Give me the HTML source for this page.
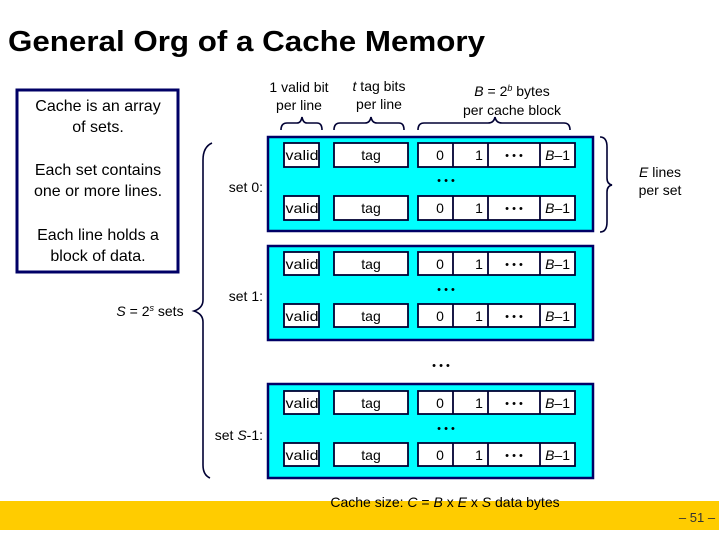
<!DOCTYPE html>
<html><head><meta charset="utf-8"><style>
html,body{margin:0;padding:0;background:#fff;}
svg{display:block;font-family:"Liberation Sans",Arial,sans-serif;}
</style></head><body>
<svg width="719" height="539" viewBox="0 0 719 539" xmlns="http://www.w3.org/2000/svg">
<rect x="0" y="501" width="719" height="29" fill="#FFCC00"/>
<text x="8" y="51" font-size="29" font-weight="bold" fill="#000" textLength="477" lengthAdjust="spacingAndGlyphs">General Org of a Cache Memory</text>

<rect x="17" y="90" width="161" height="182" fill="#fff" stroke="#000066" stroke-width="3"/>
<g font-size="16" text-anchor="middle" fill="#000">
<text x="98" y="111">Cache is an array</text>
<text x="98" y="132">of sets.</text>
<text x="98" y="175">Each set contains</text>
<text x="98" y="196">one or more lines.</text>
<text x="98" y="240">Each line holds a</text>
<text x="98" y="261">block of data.</text>
</g>

<g font-size="14" fill="#000" text-anchor="middle">
<text x="299" y="92">1 valid bit</text>
<text x="299" y="110">per line</text>
<text x="379" y="91"><tspan font-style="italic">t</tspan> tag bits</text>
<text x="379" y="109">per line</text>
<text x="512" y="96"><tspan font-style="italic">B</tspan> = 2<tspan font-size="9" dy="-5" font-style="italic">b</tspan><tspan dy="5"> bytes</tspan></text>
<text x="512" y="115">per cache block</text>
<text x="660" y="177"><tspan font-style="italic">E</tspan> lines</text>
<text x="660" y="195">per set</text>
<text x="150" y="316"><tspan font-style="italic">S</tspan> = 2<tspan font-size="9" dy="-5" font-style="italic">s</tspan><tspan dy="5"> sets</tspan></text>
</g>
<g font-size="14" fill="#000" text-anchor="end">
<text x="263" y="192">set 0:</text>
<text x="263" y="301">set 1:</text>
<text x="263" y="440">set <tspan font-style="italic">S</tspan>-1:</text>
</g>

<g fill="none" stroke="#000033" stroke-width="1.6">
<path d="M281,130 Q281,123 287,123 L297,123 Q301,123 302,117 Q303,123 307,123 L317,123 Q322,123 322,130"/>
<path d="M334,130 Q334,123 340,123 L365,123 Q370,123 371,117 Q372,123 377,123 L399,123 Q404,123 404,130"/>
<path d="M418,130 Q418,123 424,123 L488,123 Q494,123 495,117 Q496,123 502,123 L564,123 Q570,123 570,130"/>
<path d="M600,137 Q607,137 607,147 L607,178 Q607,184 612,185 Q607,186 607,192 L607,222 Q607,232 600,232"/>
<path d="M212,143 Q203,147 203,160 L203,300 Q203,308 194,311 Q203,314 203,322 L203,465 Q203,475 210,478"/>
</g>

<rect x="268" y="137" width="325" height="94" fill="#00FFFF" stroke="#000066" stroke-width="2.5"/>
<rect x="268" y="246" width="325" height="94" fill="#00FFFF" stroke="#000066" stroke-width="2.5"/>
<rect x="268" y="384" width="325" height="94" fill="#00FFFF" stroke="#000066" stroke-width="2.5"/>

<g font-size="14" fill="#000" text-anchor="middle">
<g stroke="#000033" stroke-width="1.8" fill="#fff">
<rect x="284" y="143" width="35" height="24"/><rect x="334" y="143" width="74" height="24"/><rect x="418" y="143" width="157" height="24"/>
<rect x="284" y="196" width="35" height="24"/><rect x="334" y="196" width="74" height="24"/><rect x="418" y="196" width="157" height="24"/>
<rect x="284" y="252" width="35" height="23"/><rect x="334" y="252" width="74" height="23"/><rect x="418" y="252" width="157" height="23"/>
<rect x="284" y="304" width="35" height="23"/><rect x="334" y="304" width="74" height="23"/><rect x="418" y="304" width="157" height="23"/>
<rect x="284" y="391" width="35" height="23"/><rect x="334" y="391" width="74" height="23"/><rect x="418" y="391" width="157" height="23"/>
<rect x="284" y="443" width="35" height="23"/><rect x="334" y="443" width="74" height="23"/><rect x="418" y="443" width="157" height="23"/>
<path d="M453,143v24M488,143v24M540,143v24 M453,196v24M488,196v24M540,196v24 M453,252v23M488,252v23M540,252v23 M453,304v23M488,304v23M540,304v23 M453,391v23M488,391v23M540,391v23 M453,443v23M488,443v23M540,443v23" fill="none"/>
</g>
<g>
<text x="302" y="160" textLength="33" lengthAdjust="spacingAndGlyphs">valid</text><text x="371" y="160">tag</text><text x="440" y="160">0</text><text x="479" y="160">1</text><text x="514" y="159" font-size="11">• • •</text><text x="570" y="160" text-anchor="end"><tspan font-style="italic">B</tspan>–1</text>
<text x="302" y="213" textLength="33" lengthAdjust="spacingAndGlyphs">valid</text><text x="371" y="213">tag</text><text x="440" y="213">0</text><text x="479" y="213">1</text><text x="514" y="212" font-size="11">• • •</text><text x="570" y="213" text-anchor="end"><tspan font-style="italic">B</tspan>–1</text>
<text x="302" y="269" textLength="33" lengthAdjust="spacingAndGlyphs">valid</text><text x="371" y="269">tag</text><text x="440" y="269">0</text><text x="479" y="269">1</text><text x="514" y="268" font-size="11">• • •</text><text x="570" y="269" text-anchor="end"><tspan font-style="italic">B</tspan>–1</text>
<text x="302" y="321" textLength="33" lengthAdjust="spacingAndGlyphs">valid</text><text x="371" y="321">tag</text><text x="440" y="321">0</text><text x="479" y="321">1</text><text x="514" y="320" font-size="11">• • •</text><text x="570" y="321" text-anchor="end"><tspan font-style="italic">B</tspan>–1</text>
<text x="302" y="408" textLength="33" lengthAdjust="spacingAndGlyphs">valid</text><text x="371" y="408">tag</text><text x="440" y="408">0</text><text x="479" y="408">1</text><text x="514" y="407" font-size="11">• • •</text><text x="570" y="408" text-anchor="end"><tspan font-style="italic">B</tspan>–1</text>
<text x="302" y="460" textLength="33" lengthAdjust="spacingAndGlyphs">valid</text><text x="371" y="460">tag</text><text x="440" y="460">0</text><text x="479" y="460">1</text><text x="514" y="459" font-size="11">• • •</text><text x="570" y="460" text-anchor="end"><tspan font-style="italic">B</tspan>–1</text>
</g>
<g font-size="11">
<text x="446" y="184">• • •</text>
<text x="446" y="293">• • •</text>
<text x="446" y="432">• • •</text>
<text x="441" y="369">• • •</text>
</g>
<text x="445" y="507" font-size="14">Cache size:  <tspan font-style="italic">C</tspan> = <tspan font-style="italic">B</tspan> x <tspan font-style="italic">E</tspan> x <tspan font-style="italic">S</tspan> data bytes</text>
<text x="697" y="522" font-size="13" fill="#333">– 51 –</text>
</g>
</svg>
</body></html>
